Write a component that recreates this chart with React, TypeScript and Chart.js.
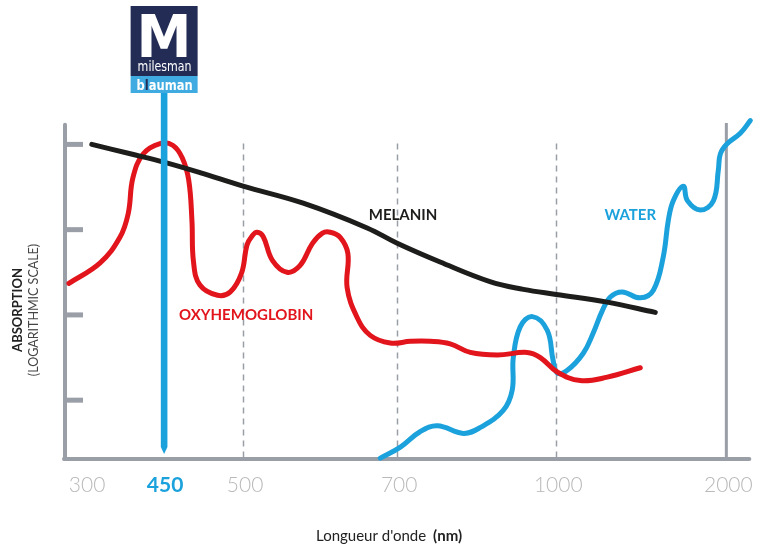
import React, { useEffect, useRef } from 'react';
import { Chart, registerables } from 'chart.js';
Chart.register(...registerables);

// ---- axis definition (non-uniform wavelength axis) ----
const TICK_NM = [300, 450, 500, 700, 1000, 2000];
const TICK_POS = [0, 0.487, 0.986, 1.947, 2.939, 4.0];
const TICK_LABELS = ['300', '450', '500', '700', '1000', '2000'];
const GRID_NM = [500, 700, 1000];
const FRAME_NM = 2000;
const HIGHLIGHT_NM = 450;
const Y_TICKS = [1, 2, 3, 4];

// ---- series (wavelength nm, log absorption) ----
const MELANIN_NM = [313, 387, 451, 473, 500, 578, 661, 700, 781, 875, 938, 1000, 1300, 1582];
const MELANIN_ABS = [4.0, 3.89, 3.79, 3.67, 3.51, 3.31, 3.02, 2.84, 2.62, 2.39, 2.3, 2.24, 2.15, 2.03];

const OXY_NM = [269, 329, 367, 383, 392, 412, 444, 456, 462, 466, 468, 469, 473, 484, 492, 499, 505, 512, 518, 526, 538, 557, 574, 590, 603, 613, 626, 636, 635, 648, 665, 691, 725, 762, 800, 838, 889, 945, 970, 1006, 1141, 1300, 1494];
const OXY_ABS = [2.37, 2.61, 2.91, 3.19, 3.61, 3.89, 4.01, 3.99, 3.84, 3.58, 3.11, 2.62, 2.35, 2.23, 2.27, 2.49, 2.82, 2.93, 2.97, 2.92, 2.64, 2.5, 2.58, 2.84, 2.96, 2.97, 2.91, 2.72, 2.32, 1.97, 1.76, 1.67, 1.69, 1.69, 1.66, 1.56, 1.53, 1.56, 1.5, 1.33, 1.23, 1.27, 1.38];

const WATER_NM = [678, 706, 743, 776, 825, 857, 900, 917, 919, 932, 955, 983, 994, 1006, 1065, 1159, 1218, 1271, 1318, 1388, 1494, 1571, 1629, 1659, 1688, 1747, 1771, 1847, 1924, 1953, 1965, 2006, 2082, 2141];
const WATER_ABS = [0.32, 0.45, 0.63, 0.7, 0.61, 0.68, 0.88, 1.12, 1.5, 1.86, 1.98, 1.82, 1.47, 1.32, 1.35, 1.55, 1.79, 2.05, 2.21, 2.27, 2.2, 2.29, 2.68, 3.11, 3.34, 3.51, 3.34, 3.23, 3.34, 3.7, 3.89, 4.01, 4.13, 4.28];

const LABEL_TEXT = ['MELANIN', 'WATER', 'OXYHEMOGLOBIN'];
const LABEL_NM = [711, 1435, 504];
const LABEL_ABS = [3.17, 3.17, 2.0];
const LABEL_COLORS = ['#1d1d1b', '#1ba1dc', '#e2141c'];

const BLACK = '#1d1d1b';
const RED = '#e2141c';
const BLUE = '#1ba1dc';
const GREY = '#9a9ea6';

function warp(nm: number): number {
  const n = TICK_NM.length;
  let i = 0;
  if (nm <= TICK_NM[0]) i = 0;
  else if (nm >= TICK_NM[n - 1]) i = n - 2;
  else {
    while (i < n - 2 && nm > TICK_NM[i + 1]) i++;
  }
  const t = (nm - TICK_NM[i]) / (TICK_NM[i + 1] - TICK_NM[i]);
  return TICK_POS[i] + t * (TICK_POS[i + 1] - TICK_POS[i]);
}

function pts(xs: number[], ys: number[]) {
  return xs.map((x, i) => ({ x: warp(x), y: ys[i] }));
}

const FONT = "Lato, 'Open Sans', sans-serif";

const decorPlugin = {
  id: 'decor',
  beforeDatasetsDraw(chart: any) {
    const { ctx, chartArea, scales } = chart;
    const xs = scales.x;
    const ys = scales.y;
    const bottom = chartArea.bottom;
    const left = chartArea.left;
    ctx.save();
    // dashed grid
    ctx.strokeStyle = GREY;
    ctx.lineWidth = 1.5;
    ctx.setLineDash([6, 5]);
    const gTop = ys.getPixelForValue(4.0) - 1;
    GRID_NM.forEach((nm) => {
      const x = Math.round(xs.getPixelForValue(warp(nm))) + 0.5;
      ctx.beginPath();
      ctx.moveTo(x, gTop);
      ctx.lineTo(x, bottom);
      ctx.stroke();
    });
    ctx.setLineDash([]);
    // frame line at 2000
    const fx = xs.getPixelForValue(warp(FRAME_NM));
    ctx.lineWidth = 3;
    ctx.beginPath();
    ctx.moveTo(fx, ys.getPixelForValue(4.25));
    ctx.lineTo(fx, bottom);
    ctx.stroke();
    // left axis
    ctx.lineWidth = 4;
    ctx.lineCap = 'round';
    ctx.beginPath();
    ctx.moveTo(left, ys.getPixelForValue(4.23));
    ctx.lineTo(left, bottom);
    ctx.stroke();
    // y tick stubs
    ctx.lineCap = 'butt';
    ctx.lineWidth = 5;
    Y_TICKS.forEach((v) => {
      const y = ys.getPixelForValue(v);
      ctx.beginPath();
      ctx.moveTo(left, y);
      ctx.lineTo(left + 18, y);
      ctx.stroke();
    });
    // bottom axis
    ctx.lineWidth = 4;
    ctx.lineCap = 'round';
    ctx.beginPath();
    ctx.moveTo(left - 1, bottom);
    ctx.lineTo(xs.getPixelForValue(warp(2135)), bottom);
    ctx.stroke();

    // tick labels
    ctx.textAlign = 'center';
    ctx.textBaseline = 'middle';
    TICK_NM.forEach((nm, i) => {
      const x = xs.getPixelForValue(warp(nm)) + 2;
      if (nm === HIGHLIGHT_NM) {
        ctx.fillStyle = BLUE;
        ctx.font = `bold 21px ${FONT}`;
      } else {
        ctx.fillStyle = '#b9b9b9';
        ctx.font = `300 21px ${FONT}`;
      }
      ctx.fillText(TICK_LABELS[i], x, bottom + 26);
    });

    // series labels
    ctx.font = `bold 15px ${FONT}`;
    LABEL_TEXT.forEach((t, i) => {
      ctx.fillStyle = LABEL_COLORS[i];
      ctx.fillText(t, xs.getPixelForValue(warp(LABEL_NM[i])), ys.getPixelForValue(LABEL_ABS[i]));
    });

    // x title
    ctx.textAlign = 'left';
    ctx.textBaseline = 'alphabetic';
    ctx.fillStyle = '#222';
    ctx.font = `15px ${FONT}`;
    const t1 = "Longueur d'onde";
    ctx.fillText(t1, 316, 541);
    const w1 = ctx.measureText(t1).width;
    ctx.font = `bold 15px ${FONT}`;
    ctx.fillText('(nm)', 316 + w1 + 7, 541);

    // y title
    ctx.save();
    ctx.translate(18, 310);
    ctx.rotate(-Math.PI / 2);
    ctx.textAlign = 'center';
    ctx.textBaseline = 'middle';
    ctx.fillStyle = '#222';
    ctx.font = `bold 13px ${FONT}`;
    ctx.fillText('ABSORPTION', 0, 0);
    ctx.fillStyle = '#444';
    ctx.font = `12.5px ${FONT}`;
    ctx.fillText('(LOGARITHMIC SCALE)', 0, 16);
    ctx.restore();
    ctx.restore();
  },
  afterDatasetsDraw(chart: any) {
    const { ctx, scales } = chart;
    const xs = scales.x;
    const x = xs.getPixelForValue(warp(HIGHLIGHT_NM)) + 1;
    ctx.save();
    // highlight line
    ctx.fillStyle = BLUE;
    ctx.beginPath();
    ctx.moveTo(x - 3.3, 92);
    ctx.lineTo(x + 3.3, 92);
    ctx.lineTo(x + 3.3, 447);
    ctx.lineTo(x, 454);
    ctx.lineTo(x - 3.3, 447);
    ctx.closePath();
    ctx.fill();
    // logo
    const lx = x - 33.5;
    ctx.fillStyle = '#232c54';
    ctx.fillRect(lx, 6, 67, 70);
    ctx.fillStyle = '#40abe0';
    ctx.fillRect(lx, 76, 67, 17);
    ctx.fillStyle = '#ffffff';
    ctx.textAlign = 'left';
    ctx.textBaseline = 'alphabetic';
    ctx.font = "bold 58px 'DejaVu Sans'";
    const wm = ctx.measureText('M').width;
    ctx.save();
    ctx.translate(lx + 6, 57);
    ctx.scale(55 / wm, 1);
    ctx.fillText('M', 0, 0);
    ctx.restore();
    ctx.font = "14px 'DejaVu Sans Condensed', 'DejaVu Sans'";
    const wn = ctx.measureText('milesman').width;
    ctx.save();
    ctx.translate(lx + 7, 71);
    ctx.scale(54 / wn, 1);
    ctx.fillText('milesman', 0, 0);
    ctx.restore();
    ctx.font = "bold 14px 'DejaVu Sans Condensed', 'DejaVu Sans'";
    const wb = ctx.measureText('blauman').width;
    const wB = ctx.measureText('b').width;
    const wL = ctx.measureText('l').width;
    ctx.save();
    ctx.translate(lx + 6, 90);
    ctx.scale(56 / wb, 1);
    ctx.fillStyle = '#ffffff';
    ctx.fillText('b', 0, 0);
    ctx.fillStyle = '#232c54';
    ctx.fillText('l', wB, 0);
    ctx.fillStyle = '#ffffff';
    ctx.fillText('auman', wB + wL, 0);
    ctx.restore();
    ctx.restore();
  },
};

export default function App() {
  const ref = useRef<HTMLCanvasElement | null>(null);
  useEffect(() => {
    if (!ref.current) return;
    const common = { pointRadius: 0, borderWidth: 5, tension: 0.4, fill: false, borderCapStyle: 'round', borderJoinStyle: 'round', clip: false };
    const chart = new Chart(ref.current, {
      type: 'line',
      data: {
        datasets: [
          { label: 'Melanin', data: pts(MELANIN_NM, MELANIN_ABS), borderColor: BLACK, ...common } as any,
          { label: 'Oxyhemoglobin', data: pts(OXY_NM, OXY_ABS), borderColor: RED, ...common } as any,
          { label: 'Water', data: pts(WATER_NM, WATER_ABS), borderColor: BLUE, ...common } as any,
        ],
      },
      options: {
        animation: false,
        responsive: false,
        devicePixelRatio: 1,
        layout: { padding: { left: 65, right: 17, top: 112, bottom: 87 } },
        plugins: { legend: { display: false }, tooltip: { enabled: false }, title: { display: false } },
        scales: {
          x: { type: 'linear', min: -0.125, max: 4.16, display: false },
          y: { type: 'linear', min: 0.31, max: 4.38, display: false },
        },
      },
      plugins: [decorPlugin],
    });
    return () => chart.destroy();
  }, []);
  return (
    <div style={{ position: 'absolute', left: 0, top: 0, width: 769, height: 546, background: '#fff' }}>
      <canvas ref={ref} width={769} height={546} style={{ width: 769, height: 546, display: 'block' }} />
    </div>
  );
}
